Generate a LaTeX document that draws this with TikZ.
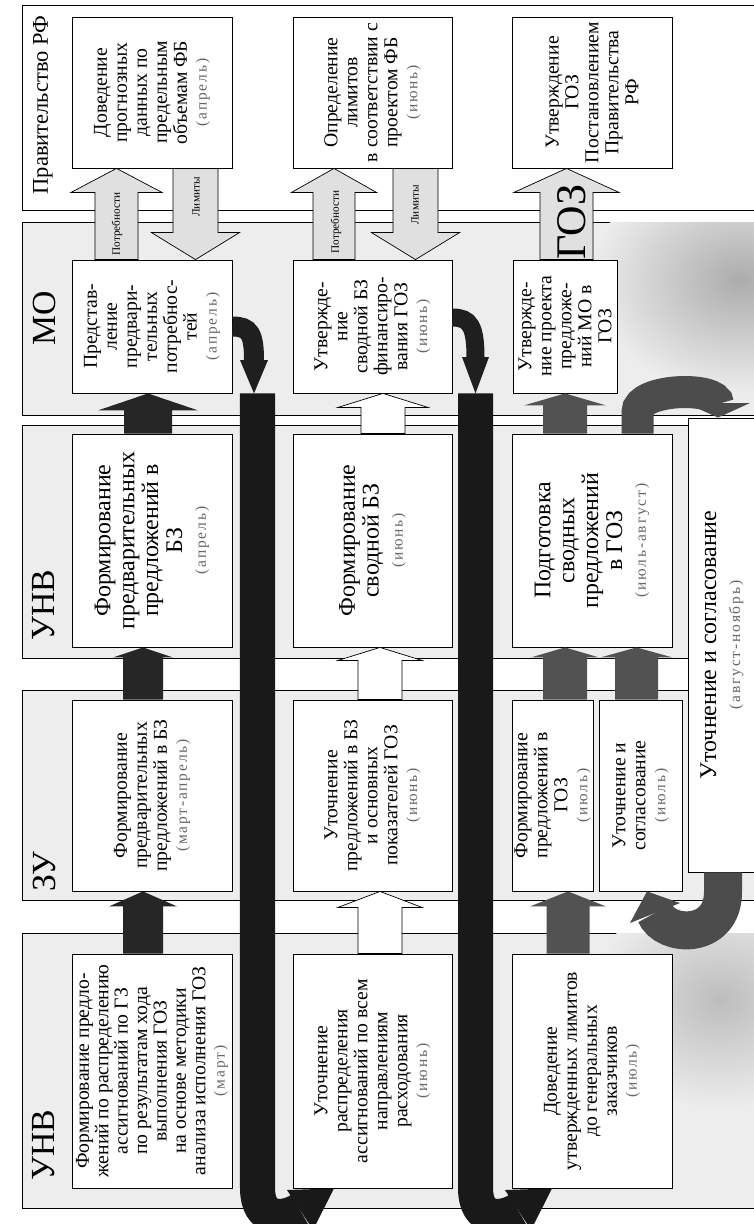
\documentclass[tikz,border=0pt]{standalone}
\usepackage{fontspec}
\setmainfont{Liberation Serif}
\newfontfamily\monthfam[LetterSpace=12]{Liberation Serif}
\usetikzlibrary{calc}
\newcommand\pxl{0.025cm}
\newcommand\fnorm{\fontsize{14}{14.2}\selectfont}
\newcommand\ftight{\fontsize{14}{13.8}\selectfont}
\newcommand\fbig{\fontsize{17}{17}\selectfont}
\newcommand\flab{\fontsize{24}{24}\selectfont}
\newcommand\mon[1]{{\monthfam\fontsize{11}{12}\selectfont\color{black!60}(#1)}}
% up block arrow: style, lower node, upper node, centre x, shaft half, head half, head length
\newcommand\upblk[7]{\path[#1] ({#4-#5},0 |- #2.east) -- ($({#4-#5},0 |- #3.west)+(0,#7)$) -- ($({#4-#6},0 |- #3.west)+(0,#7)$) -- ({#4},0 |- #3.west) -- ($({#4+#6},0 |- #3.west)+(0,#7)$) -- ($({#4+#5},0 |- #3.west)+(0,#7)$) -- ({#4+#5},0 |- #2.east) -- cycle;}
% down block arrow: style, upper node, lower node, centre x, shaft half, head half, head length
\newcommand\dnblk[7]{\path[#1] ({#4-#5},0 |- #2.west) -- ($({#4-#5},0 |- #3.east)+(0,-#7)$) -- ($({#4-#6},0 |- #3.east)+(0,-#7)$) -- ({#4},0 |- #3.east) -- ($({#4+#6},0 |- #3.east)+(0,-#7)$) -- ($({#4+#5},0 |- #3.east)+(0,-#7)$) -- ({#4+#5},0 |- #2.west) -- cycle;}
\tikzset{
  box/.style={draw=black, fill=white, line width=0.6pt, rotate=90, align=center, inner sep=1pt, font=\fnorm},
  sz/.style 2 args={minimum width={#1*\pxl}, minimum height={#2*\pxl}},
  lab/.style={rotate=90, font=\flab, inner sep=0pt},
  band/.style={draw=black, line width=0.5pt, fill=gray!14},
  darkarr/.style={fill=black!85},
  midarr/.style={fill=black!68},
  whitearr/.style={draw=black, line width=0.5pt, fill=white},
  lightarr/.style={draw=black, line width=0.5pt, fill=gray!24},
  arrlab/.style={rotate=90, font=\fontsize{8}{8}\selectfont, inner sep=0pt},
}
\begin{document}
\begin{tikzpicture}[x=0.025cm, y=-0.025cm]
\useasboundingbox (0,0) rectangle (754,1224);
\fill[white] (0,0) rectangle (754,1224);
% bands
\draw[line width=0.5pt, fill=white] (22,5) rectangle (780,210);
\draw[band] (22,222) rectangle (780,415);
\draw[band] (22,425) rectangle (780,658);
\draw[band] (22,690) rectangle (780,900);
\draw[band] (22,933) rectangle (780,1208);
% shading
\begin{scope}
  \clip (22,222) rectangle (780,415);
  \shade[inner color=gray!65, outer color=gray!14] (740,280) ellipse [x radius=150, y radius=115];
\end{scope}
\begin{scope}
  \clip (22,933) rectangle (780,1208);
  \shade[inner color=gray!52, outer color=gray!14] (720,1000) ellipse [x radius=130, y radius=110];
\end{scope}
% band labels
\node[lab, font=\fontsize{16}{16}\selectfont] (lp) at (43,105) {Правительство РФ};
\node[lab] (lm) at (44,318) {МО};
\node[lab] (ln2) at (44,605) {УНВ};
\node[lab] (lz) at (44,872) {ЗУ};
\node[lab] (ln1) at (44,1145) {УНВ};
% boxes: Правительство РФ
\node[box, sz={151}{160}] (g1) at (152,92.5) {Доведение\\ прогнозных\\ данных по\\ предельным\\ объемам ФБ\\ \mon{апрель}};
\node[box, sz={151}{159}] (g2) at (372.5,92.5) {Определение\\ лимитов\\ в соответствии с\\ проектом ФБ\\ \mon{июнь}};
\node[box, sz={151}{160}] (g3) at (592,92.5) {Утверждение\\ ГОЗ\\ Постановлением\\ Правительства\\ РФ};
% МО
\node[box, sz={133}{160}] (m1) at (152,326.5) {Представ-\\ ление\\ предвари-\\ тельных\\ потребнос-\\ тей\\ \mon{апрель}};
\node[box, sz={133}{159}] (m2) at (372.5,326.5) {Утвержде-\\ ние\\ сводной БЗ\\ финансиро-\\ вания ГОЗ\\ \mon{июнь}};
\node[box, sz={133}{104}] (m3) at (565,326.5) {Утвержде-\\ ние проекта\\ предложе-\\ ний МО в\\ ГОЗ};
% УНВ (upper)
\node[box, font=\fbig, sz={213}{160}] (n1) at (152,540.5) {Формирование\\ предварительных\\ предложений в\\ БЗ\\ \mon{апрель}};
\node[box, font=\fbig, sz={213}{159}] (n2) at (372.5,540.5) {Формирование\\ сводной БЗ\\ \mon{июнь}};
\node[box, font=\fbig, sz={213}{160}] (n3) at (592,540.5) {Подготовка\\ сводных\\ предложений\\ в ГОЗ\\ \mon{июль-август}};
% ЗУ
\node[box, sz={191}{160}] (z1) at (152,795.5) {Формирование\\ предварительных\\ предложений в БЗ\\ \mon{март-апрель}};
\node[box, sz={191}{159}] (z2) at (372.5,795.5) {Уточнение\\ предложений в БЗ\\ и основных\\ показателей ГОЗ\\ \mon{июнь}};
\node[box, sz={191}{81}] (z3a) at (552.5,795.5) {Формирование\\ предложений в\\ ГОЗ\\ \mon{июль}};
\node[box, sz={191}{83}] (z3b) at (640.5,795.5) {Уточнение и\\ согласование\\ \mon{июль}};
% УНВ (lower)
\node[box, font=\ftight, sz={234}{160}] (u1) at (152,1071) {Формирование предло-\\ жений по распределению\\ ассигнований по ГЗ\\ по результатам хода\\ выполнения ГОЗ\\ на основе методики\\ анализа исполнения ГОЗ\\ \mon{март}};
\node[box, sz={234}{159}] (u2) at (372.5,1071) {Уточнение\\ распределения\\ ассигнований по всем\\ направлениям\\ расходования\\ \mon{июнь}};
\node[box, sz={234}{160}] (u3) at (592,1071) {Доведение\\ утвержденных лимитов\\ до генеральных\\ заказчиков\\ \mon{июль}};
% big box
\node[box, font=\fbig, sz={454}{68}] (bb) at (722,645) {Уточнение и согласование\\ \mon{август-ноябрь}};
% stage 1 block arrows
\upblk{darkarr}{u1}{z1}{143}{20}{34}{15}
\upblk{darkarr}{z1}{n1}{143}{20}{30}{10}
\upblk{darkarr}{n1}{m1}{148}{24}{50}{17}
\upblk{lightarr}{m1}{g1}{116.5}{21.5}{45.5}{24}
\dnblk{lightarr}{g1}{m1}{195.5}{22.5}{44}{27}
% stage 2 block arrows
\upblk{whitearr}{u2}{z2}{380}{22}{42}{16}
\upblk{whitearr}{z2}{n2}{380}{22}{42}{13}
\upblk{whitearr}{n2}{m2}{383}{22}{45}{14}
\upblk{lightarr}{m2}{g2}{334}{21}{42.5}{24}
\dnblk{lightarr}{g2}{m2}{415.5}{22.5}{44}{27}
% stage 3 block arrows
\upblk{midarr}{u3}{z3a}{568}{21.5}{38}{15}
\upblk{midarr}{z3a}{n3}{565}{22}{34}{10}
\upblk{midarr}{z3b}{n3}{636.5}{21.5}{36}{10}
\upblk{midarr}{n3}{m3}{565}{22}{41}{12}
\upblk{lightarr}{m3}{g3}{566.5}{26.5}{52.5}{24}
% arrow labels
\node[arrlab] (t1) at (117,224) {Потребности};
\node[arrlab] (l1) at (196,197) {Лимиты};
\node[arrlab] (t2) at (336,222) {Потребности};
\node[arrlab] (l2) at (415,205) {Лимиты};
\node[rotate=90, font=\fontsize{30}{30}\selectfont, inner sep=0pt] (goz) at (572,222) {ГОЗ};
% curved arrow MO1 -> bar 1
\draw[line width=0.5cm, black!88] (m1.south) .. controls (250,326.5) and (254,334) .. (254,361);
\fill[black!88] (240,360) -- (268,360) -- (254,0 |- m1.west) -- cycle;
% bar 1
\draw[line width=0.875cm, black!90] (257.5,0 |- m1.west) -- (257.5,1188) .. controls (257.5,1222) and (284,1220) .. (300,1210);
\fill[black!90] (287,1190) -- (334,0 |- u2.west) -- (313,1230) -- cycle;
% curved arrow MO2 -> bar 2
\draw[line width=0.45cm, black!88] ($(m2.south)+(0,-9)$) .. controls (470,317.5) and (475.5,326) .. (475.5,358);
\fill[black!88] (462,357) -- (489,357) -- (475.5,0 |- m2.west) -- cycle;
% bar 2
\draw[line width=0.875cm, black!90] (475.5,0 |- m2.west) -- (475.5,1188) .. controls (475.5,1222) and (502,1220) .. (518,1210);
\fill[black!90] (505,1190) -- (552,0 |- u3.west) -- (531,1230) -- cycle;
% curved arrow n3 -> big box
\draw[line width=0.8cm, black!70] (637.5,0 |- n3.east) -- (637.5,412) .. controls (637.5,388) and (718,386) .. (718,404);
\fill[black!70] (686,403) -- (750,403) -- (718,0 |- bb.east) -- cycle;
% curved arrow big box -> z3b
\draw[line width=0.95cm, black!70] (723,0 |- bb.west) -- (723,892) .. controls (723,940) and (665,938) .. (655,913);
\fill[black!70] (680,903) -- (647,0 |- z3b.west) -- (630,923) -- cycle;
\end{tikzpicture}
\end{document}
